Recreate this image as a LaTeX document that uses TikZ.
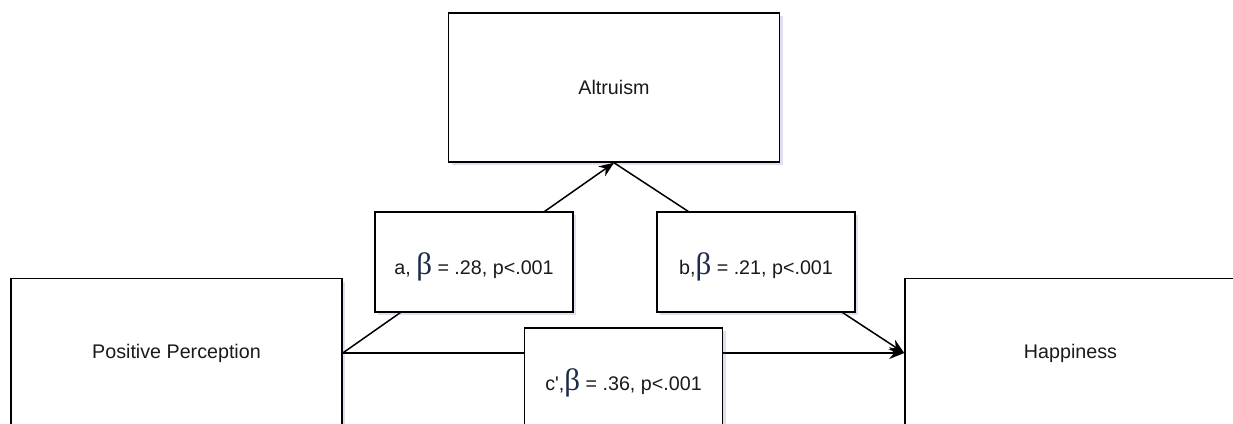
\documentclass[tikz,border=0pt]{standalone}
\usepackage{fontspec}
\setmainfont{Liberation Sans}
\newfontfamily\betafont{Liberation Serif}
\usepackage{xcolor}
\usepackage{tikz}
\usetikzlibrary{arrows.meta,shadows}

\definecolor{betablue}{HTML}{1C2B4A}
\definecolor{inkgray}{HTML}{1A1A1A}
\newcommand{\betasym}{{\betafont\fontsize{31}{31}\selectfont\color{betablue}β}}

\begin{document}
\begin{tikzpicture}[x=1pt, y=-1pt, >={Stealth[length=15pt,width=12pt]},
    font=\fontsize{19.7}{24}\selectfont, text=inkgray,
    varbox/.style={draw=black, line width=1.5pt, fill=white,
      minimum width=331pt, minimum height=149pt, inner sep=0pt,
      drop shadow={shadow xshift=3pt, shadow yshift=-3pt,
        opacity=0.18, fill=blue!40!gray}},
    coefbox/.style={varbox, minimum width=198pt, minimum height=100pt,
      text height=25pt, text depth=0pt},
    effect/.style={->, line width=1.5pt, draw=black}]
    \clip (0,0) rectangle (1233,423);
    % variables
    \node[varbox] (altr) at (614,87.5) {Altruism};
    \node[varbox] (pos) at (176.5,353) {Positive Perception};
    \node[varbox] (hap) at (1070.5,353) {Happiness};
    % paths
    \draw[effect] (pos.east) -- (altr.south);
    \draw[effect] (altr.south) -- (hap.west);
    \draw[effect] (pos.east) -- (hap.west);
    % coefficients
    \node[coefbox] (pa) at (474,262) {a, \betasym{} = .28, p<.001};
    \node[coefbox] (pb) at (756,262) {b,\betasym{} = .21, p<.001};
    \node[coefbox] (pc) at (623.5,378) {c\textquotesingle,\betasym{} = .36, p<.001};
\end{tikzpicture}
\end{document}
